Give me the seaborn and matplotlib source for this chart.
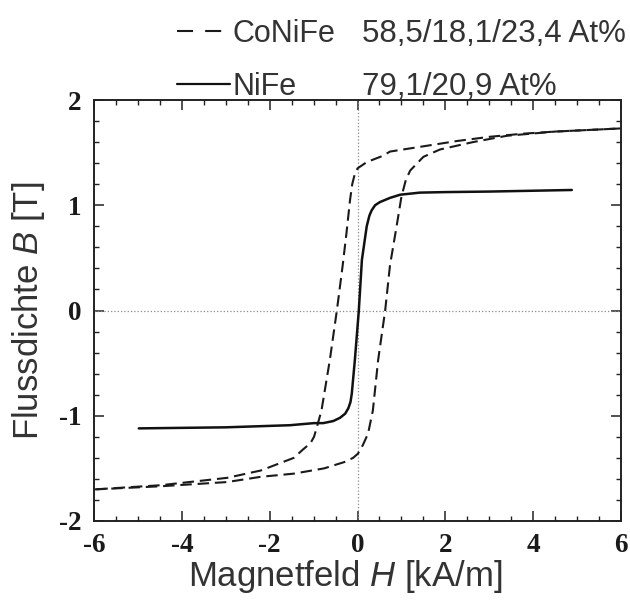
import matplotlib
matplotlib.use("Agg")
import matplotlib.pyplot as plt
import seaborn as sns
from matplotlib.lines import Line2D
from matplotlib.ticker import MultipleLocator

# CoNiFe hysteresis loop: descending branch (from +H to -H)
conife_down_h = [6.0, 4.5, 3.77, 3.0, 2.26, 1.5, 0.74, 0.58, 0.21, 0.0, -0.06, -0.12, -0.17,
                 -0.25, -0.34, -0.47, -0.63, -0.82, -0.92, -0.99, -1.07, -1.24, -1.45, -2.2,
                 -2.97, -4.48, -6.0]
conife_down_b = [1.73, 1.70, 1.68, 1.65, 1.61, 1.56, 1.51, 1.47, 1.41, 1.35, 1.30, 1.20, 1.05,
                 0.74, 0.42, 0.0, -0.47, -0.95, -1.10, -1.20, -1.26, -1.32, -1.40, -1.52,
                 -1.59, -1.66, -1.70]
# CoNiFe ascending branch (from -H to +H)
conife_up_h = [-6.0, -4.48, -2.97, -2.2, -1.45, -0.76, -0.3, -0.1, 0.01, 0.12, 0.24, 0.35,
               0.47, 0.63, 0.74, 0.89, 1.0, 1.1, 1.2, 1.5, 1.88, 2.63, 3.4, 4.5, 6.0]
conife_up_b = [-1.70, -1.67, -1.63, -1.58, -1.55, -1.50, -1.44, -1.40, -1.36, -1.28, -1.17,
               -0.95, -0.47, 0.0, 0.43, 0.80, 1.08, 1.24, 1.33, 1.46, 1.53, 1.60, 1.66,
               1.70, 1.73]
# NiFe curve
nife_h = [-4.98, -3.0, -1.54, -0.99, -0.78, -0.55, -0.40, -0.28, -0.21, -0.16, -0.13, -0.06,
          0.03, 0.10, 0.21, 0.27, 0.32, 0.40, 0.51, 0.74, 0.97, 1.42, 2.0, 3.0, 4.88]
nife_b = [-1.12, -1.11, -1.09, -1.07, -1.07, -1.05, -1.02, -0.98, -0.93, -0.87, -0.79, -0.47,
          0.0, 0.48, 0.80, 0.90, 0.95, 1.00, 1.03, 1.07, 1.10, 1.12, 1.125, 1.13, 1.145]

legend_names = ["CoNiFe", "NiFe"]
legend_comp = ["58,5/18,1/23,4 At%", "79,1/20,9 At%"]
x_ticks = [-6, -4, -2, 0, 2, 4, 6]
y_ticks = [-2, -1, 0, 1, 2]

sns.set_style("ticks")
plt.rcParams["font.family"] = ["Liberation Sans", "DejaVu Sans"]
plt.rcParams["mathtext.fontset"] = "custom"
plt.rcParams["mathtext.rm"] = "Liberation Sans"
plt.rcParams["mathtext.it"] = "Liberation Sans:italic"
plt.rcParams["axes.unicode_minus"] = False

txt_col = "#333333"
fig = plt.figure(figsize=(6.3, 6.01), dpi=100)
ax = fig.add_axes([94 / 630, 1 - 521 / 601, 527 / 630, 421 / 601])

dash = (0, (5.5, 2.8))
lw = 1.5
# zero lines
ax.axhline(0, color="#8a8a8a", lw=0.9, ls=":", zorder=1)
ax.axvline(0, color="#8a8a8a", lw=0.9, ls=":", zorder=1)

sns.lineplot(x=conife_down_h, y=conife_down_b, sort=False, estimator=None, ax=ax,
             color="#1a1a1a", lw=lw, linestyle=dash)
sns.lineplot(x=conife_up_h, y=conife_up_b, sort=False, estimator=None, ax=ax,
             color="#1a1a1a", lw=lw, linestyle=dash)
sns.lineplot(x=nife_h, y=nife_b, sort=False, estimator=None, ax=ax,
             color="#111111", lw=1.8)

ax.set_xlim(-6, 6)
ax.set_ylim(-2, 2)
ax.set_xticks(x_ticks)
ax.set_yticks(y_ticks)
ax.xaxis.set_minor_locator(MultipleLocator(0.5))
ax.yaxis.set_minor_locator(MultipleLocator(0.2))
ax.tick_params(which="both", direction="in", top=True, right=True, color="#222222")
ax.tick_params(which="major", length=7, width=1.1, pad=9)
ax.tick_params(which="minor", length=3.5, width=1.0)
for lab in ax.get_xticklabels() + ax.get_yticklabels():
    lab.set_fontfamily("Liberation Serif")
    lab.set_fontweight("bold")
    lab.set_fontsize(19.5)
    lab.set_color("#1a1a1a")
for sp in ax.spines.values():
    sp.set_linewidth(1.4)
    sp.set_color("#222222")

ax.set_xlabel(r"Magnetfeld $\mathit{H}$ [kA/m]", fontsize=25, color=txt_col)
ax.set_ylabel(r"Flussdichte $\mathit{B}$ [T]", fontsize=25, color=txt_col)
ax.xaxis.set_label_coords(0.476, -0.087)
ax.yaxis.set_label_coords(-0.089, 0.5)

handles = [Line2D([], [], color="#1a1a1a", lw=lw, linestyle=(0, (7.7, 5.8))),
           Line2D([], [], color="#111111", lw=1.6)]
ax.legend(handles, legend_names, loc="lower left", bbox_to_anchor=(0.1575, 0.995),
          frameon=False, fontsize=22, handlelength=1.75, handletextpad=0.05,
          borderpad=0, borderaxespad=0, labelspacing=0.76, labelcolor=txt_col)
for i, txt in enumerate(legend_comp):
    ax.text(0.5085, [1.1378, 1.0119][i], txt, transform=ax.transAxes, fontsize=22.5,
            va="baseline", ha="left", color=txt_col)

plt.savefig("out.png", dpi=100)
plt.close()
